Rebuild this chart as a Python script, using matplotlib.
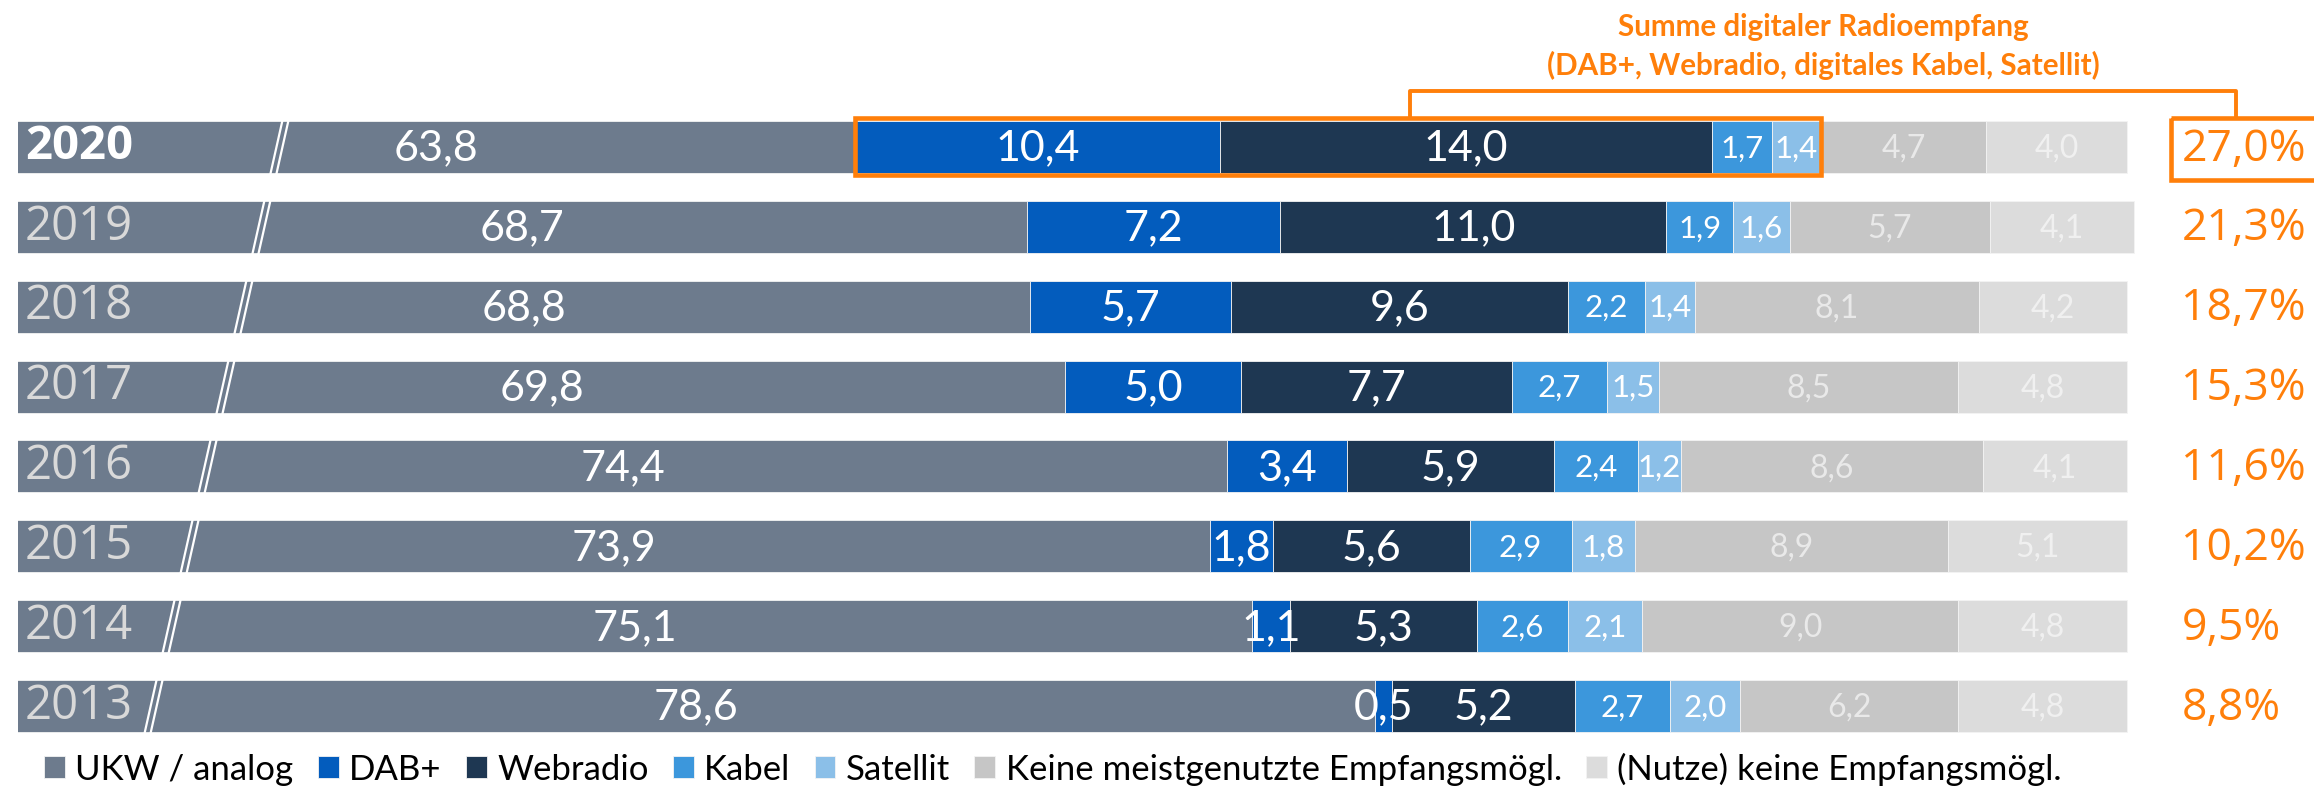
import matplotlib.pyplot as plt
from matplotlib.lines import Line2D
from matplotlib.patches import Rectangle
import numpy as np

years = ['2020', '2019', '2018', '2017', '2016', '2015', '2014', '2013']
ukw = [63.8, 68.7, 68.8, 69.8, 74.4, 73.9, 75.1, 78.6]
dab = [10.4, 7.2, 5.7, 5.0, 3.4, 1.8, 1.1, 0.5]
web = [14.0, 11.0, 9.6, 7.7, 5.9, 5.6, 5.3, 5.2]
kabel = [1.7, 1.9, 2.2, 2.7, 2.4, 2.9, 2.6, 2.7]
sat = [1.4, 1.6, 1.4, 1.5, 1.2, 1.8, 2.1, 2.0]
keine_meist = [4.7, 5.7, 8.1, 8.5, 8.6, 8.9, 9.0, 6.2]
keine = [4.0, 4.1, 4.2, 4.8, 4.1, 5.1, 4.8, 4.8]
digital_pct = [27.0, 21.3, 18.7, 15.3, 11.6, 10.2, 9.5, 8.8]

series = [ukw, dab, web, kabel, sat, keine_meist, keine]
names = ['UKW / analog', 'DAB+', 'Webradio', 'Kabel', 'Satellit',
         'Keine meistgenutzte Empfangsmögl.', '(Nutze) keine Empfangsmögl.']
colors = ['#6d7b8d', '#035cbd', '#1e3752', '#3c97dc', '#8bbfe8', '#c6c6c6', '#dcdcdc']
label_colors = ['white', 'white', 'white', 'white', 'white', '#e9e9e9', '#f0f0f0']
label_sizes = [31, 31, 31, 22.5, 22.5, 23, 23]
orange = '#ff7f0a'

W, H = 2314, 786
fig = plt.figure(figsize=(W / 100, H / 100), dpi=100)
ax = fig.add_axes([18 / W, 1 - 754 / H, 1 - 18 / W, (754 - 99) / H])
xmin = 40
ax.set_xlim(xmin, 100 + (W - 2127) / 35.14)
ax.set_ylim(7.6, -0.6)
ax.axis('off')

y = np.arange(len(years))
left = np.zeros(len(years))
handles = []
for vals, name, c, lc, fs in zip(series, names, colors, label_colors, label_sizes):
    vals = np.array(vals)
    b = ax.barh(y, vals, left=left, height=0.65, color=c, edgecolor='#f3f3f3',
                linewidth=0.6, label=name)
    handles.append(b)
    for i, v in enumerate(vals):
        if name == 'UKW / analog':
            cx = (xmin + v) / 2
        else:
            cx = left[i] + v / 2
        ax.text(cx, y[i] + 0.02, f'{v:.1f}'.replace('.', ','), ha='center', va='center',
                color=lc, fontsize=fs, family='Lato')
    left = left + vals

# year labels inside the bars
for i, yr in enumerate(years):
    ax.text(xmin + 0.2, y[i], yr, ha='left', va='center', fontsize=34,
            family='Open Sans', fontweight='bold' if i == 0 else 'normal',
            color='white' if i == 0 else '#d9d9d9')

# digital share on the right
for i, p in enumerate(digital_pct):
    ax.text(101.55, y[i] + 0.03, f'{p:.1f}%'.replace('.', ','), ha='left', va='center',
            fontsize=32, family='Open Sans', color=orange)

# highlight 2020 digital reception
dig_start = ukw[0]
dig_width = dab[0] + web[0] + kabel[0] + sat[0]
ax.add_patch(Rectangle((dig_start, -0.36), dig_width, 0.71, fill=False, ec=orange,
                       lw=3.3, clip_on=False, zorder=5))
ax.add_patch(Rectangle((101.25, -0.36), 4.3, 0.77, fill=False, ec=orange,
                       lw=3.3, clip_on=False, zorder=5))
ax.add_line(Line2D([79.6, 79.6, 103.1, 103.1], [-0.36, -0.70, -0.70, -0.36],
                   color=orange, lw=2.8, clip_on=False))
ax.text(91.35, -1.50, 'Summe digitaler Radioempfang', ha='center', va='center',
        fontsize=21.3, fontweight='bold', family='Lato', color=orange)
ax.text(91.35, -1.02, '(DAB+, Webradio, digitales Kabel, Satellit)', ha='center',
        va='center', fontsize=21.3, fontweight='bold', family='Lato', color=orange)

# axis break marks
for dx in (0, 6):
    fig.add_artist(Line2D([(283 + dx) / W, (139 + dx) / W], [1 - 118 / H, 1 - 758 / H],
                          color='white', lw=1.6, transform=fig.transFigure))

fig.legend(handles=handles, labels=names, loc='center left',
           bbox_to_anchor=(44 / W, 1 - 769 / H), ncol=7, frameon=False,
           prop={'family': 'Lato', 'size': 25}, handlelength=0.6, handleheight=0.6,
           handletextpad=0.3, columnspacing=0.7, borderaxespad=0, borderpad=0)

fig.savefig('out.png', dpi=100)
